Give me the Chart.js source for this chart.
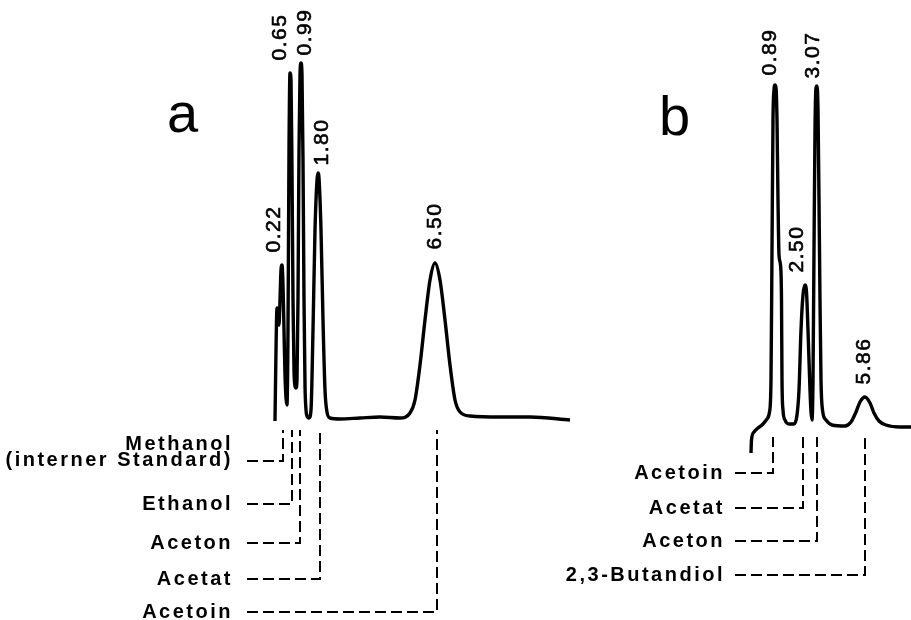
<!DOCTYPE html>
<html>
<head>
<meta charset="utf-8">
<script src="https://cdn.jsdelivr.net/npm/chart.js@4"></script>
<style>
  html, body { margin: 0; padding: 0; background: #fff; }
  canvas { display: block; }
</style>
</head>
<body>
<canvas id="chrom" width="911" height="620"></canvas>
<script>
// ===============================
// DATA: chromatogram traces (x = chart position, y = detector signal)
// ===============================
const traceAX = [275, 276, 277, 278, 279, 280, 281, 282, 283, 284, 285, 286, 287, 288, 289, 290, 291, 292, 293, 294, 295, 296, 297, 298, 299, 300, 301, 302, 303, 304, 305, 306, 307, 309, 311, 313, 315, 317, 318, 319, 321, 323, 325, 327, 330, 340, 360, 380, 400, 410, 415, 420, 425, 430, 435, 440, 445, 450, 455, 460, 470, 500, 530, 570];
const traceAY = [199, 270, 312, 308, 295, 320, 350, 355, 335, 290, 245, 222, 215, 290, 470, 547, 540, 450, 320, 250, 234, 232, 240, 320, 470, 545, 557, 545, 460, 320, 235, 210, 204, 202, 210, 290, 390, 440, 447, 442, 390, 300, 230, 208, 202, 201, 202, 203, 202, 207, 220, 255, 300, 340, 357, 340, 300, 255, 220, 208, 204, 203, 203, 200];

const traceBX = [751, 751.5, 754, 758, 763, 767, 769.5, 771, 772, 773, 774, 775, 776, 777, 778, 779, 780.5, 781.5, 782, 783, 785, 789, 794, 797, 799, 801, 803, 805, 806.5, 808, 810, 811, 812, 813, 814, 815, 816, 817, 818, 819, 820, 821, 822.5, 826, 832, 845, 851, 856, 860, 865, 870, 874, 879, 886, 900, 911];
const traceBY = [167, 180, 188, 192, 196, 201, 208, 240, 370, 500, 530, 535, 532, 500, 420, 365, 355, 320, 240, 210, 200, 196, 196, 205, 230, 290, 325, 335, 328, 290, 230, 208, 200, 240, 370, 490, 532, 534, 510, 420, 320, 240, 210, 200, 195, 194, 198, 208, 218, 223, 217, 207, 199, 195, 193, 193];

// peak retention labels
const peakLabelsA = ['0.22', '0.65', '0.99', '1.80', '6.50'];
const peakLabelsB = ['0.89', '3.07', '2.50', '5.86'];

// compounds
const compoundsA = [['Methanol', '(interner Standard)'], ['Ethanol'], ['Aceton'], ['Acetat'], ['Acetoin']];
const compoundsB = [['Acetoin'], ['Acetat'], ['Aceton'], ['2,3-Butandiol']];

// ===============================
// LAYOUT (chart units)
// ===============================
const peakLabelPosA = [[274, 391], [280, 583], [305, 588], [322, 478], [435, 394]];
const peakLabelPosB = [[770, 568], [813, 565], [797, 371], [864, 259]];

const leaderA = { textX: 233, startX: 247, top: 190, cols: [283, 292, 300, 320, 437], rows: [159, 116, 77, 41, 8] };
const leaderB = { textX: 725, startX: 735, top: 183, cols: [773, 803, 817, 865], rows: [147, 112, 79, 45] };

function pts(xs, ys) {
  return xs.map((x, i) => ({ x: x, y: ys[i] }));
}

const traceStyle = {
  borderColor: '#000',
  borderWidth: 3.4,
  pointRadius: 0,
  cubicInterpolationMode: 'monotone',
  fill: false
};

const datasets = [
  Object.assign({ label: 'a', data: pts(traceAX, traceAY) }, traceStyle),
  Object.assign({ label: 'b', data: pts(traceBX, traceBY) }, traceStyle)
];

// dashed leader lines from names to peaks
[leaderA, leaderB].forEach(L => {
  L.cols.forEach((c, i) => {
    datasets.push({
      label: 'leader',
      data: [{ x: L.startX, y: L.rows[i] }, { x: c, y: L.rows[i] }, { x: c, y: L.top }],
      borderColor: '#000',
      borderWidth: 2,
      borderDash: [11, 5],
      pointRadius: 0,
      tension: 0,
      fill: false
    });
  });
});

// ===============================
// TEXT PLUGIN
// ===============================
const textPlugin = {
  id: 'chromText',
  afterDatasetsDraw(chart) {
    const ctx = chart.ctx;
    const sx = chart.scales.x, sy = chart.scales.y;
    ctx.save();
    ctx.fillStyle = '#000';

    // panel letters
    ctx.font = '56px "Liberation Sans", Arial, sans-serif';
    ctx.textAlign = 'left';
    ctx.textBaseline = 'alphabetic';
    ctx.fillText('a', sx.getPixelForValue(167), sy.getPixelForValue(488));
    ctx.fillText('b', sx.getPixelForValue(659), sy.getPixelForValue(485));

    // rotated peak labels
    ctx.font = '21px "Liberation Sans", Arial, sans-serif';
    ctx.letterSpacing = '1.5px';
    ctx.strokeStyle = '#000';
    ctx.lineWidth = 0.6;
    const drawPeaks = (labels, pos) => {
      labels.forEach((t, i) => {
        ctx.save();
        ctx.translate(sx.getPixelForValue(pos[i][0]), sy.getPixelForValue(pos[i][1]));
        ctx.rotate(-Math.PI / 2);
        ctx.textAlign = 'center';
        ctx.textBaseline = 'middle';
        ctx.fillText(t, 0, 0);
        ctx.strokeText(t, 0, 0);
        ctx.restore();
      });
    };
    drawPeaks(peakLabelsA, peakLabelPosA);
    drawPeaks(peakLabelsB, peakLabelPosB);

    // compound names
    ctx.font = 'bold 20px "Liberation Sans", Arial, sans-serif';
    ctx.letterSpacing = '2.5px';
    ctx.textAlign = 'right';
    ctx.textBaseline = 'middle';
    const drawNames = (names, L) => {
      names.forEach((lines, i) => {
        const px = sx.getPixelForValue(L.textX);
        const py = sy.getPixelForValue(L.rows[i]);
        if (lines.length === 2) {
          ctx.fillText(lines[0], px, py - 17);
          ctx.fillText(lines[1], px, py - 1);
        } else {
          ctx.fillText(lines[0], px, py);
        }
      });
    };
    drawNames(compoundsA, leaderA);
    drawNames(compoundsB, leaderB);
    ctx.restore();
  }
};

new Chart(document.getElementById('chrom'), {
  type: 'line',
  data: { datasets: datasets },
  options: {
    responsive: false,
    animation: false,
    layout: { padding: 0 },
    plugins: { legend: { display: false }, tooltip: { enabled: false } },
    scales: {
      x: { type: 'linear', min: 0, max: 911, display: false },
      y: { type: 'linear', min: 0, max: 620, display: false }
    }
  },
  plugins: [textPlugin]
});
</script>
</body>
</html>
